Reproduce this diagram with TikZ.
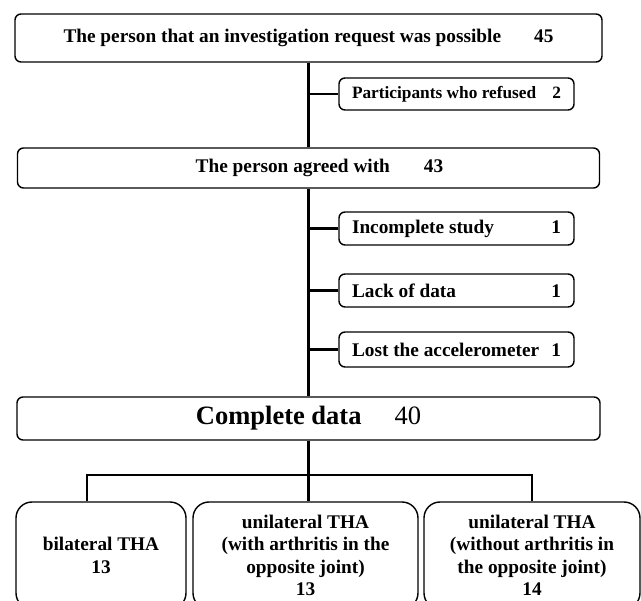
\documentclass[tikz,border=0pt]{standalone}
\usepackage{fontspec}
\setmainfont{Liberation Serif}
\usetikzlibrary{positioning}
\tikzset{
box/.style={draw, line width=1.4pt, rounded corners=6pt, inner sep=0pt, font=\bfseries\fontsize{19.3}{22.5}\selectfont},
sidebox/.style={box, minimum width=235pt, minimum height=33pt},
groupbox/.style={box, rounded corners=16pt, minimum width=#1, minimum height=107pt, align=center},
link/.style={line width=2.4pt}
}
\newcommand{\row}[2]{\makebox[209pt][s]{#1\hfill#2}}

\begin{document}
\begin{tikzpicture}[x=1pt,y=-1pt]
\useasboundingbox (0,0) rectangle (641,601);
\clip (0,0) rectangle (641,601);
\node[box, minimum width=587pt, minimum height=48pt] (request) at (308.5,38) {The person that an investigation request was possible\hspace{33pt}45};
\node[sidebox, minimum height=32pt, font=\bfseries\fontsize{17.3}{20}\selectfont] (refused) at (456.5,94) {\row{Participants who refused}{2}};
\node[box, minimum width=582pt, minimum height=40pt] (agreed) at (308.5,168) {\hspace*{22pt}The person agreed with\hspace{34pt}43};
\node[sidebox] (incomplete) at (456.5,228.5) {\row{Incomplete study}{1}};
\node[sidebox] (lack) at (456.5,290.5) {\row{Lack of data}{1}};
\node[sidebox, minimum height=35pt] (lost) at (456.5,349.5) {\row{Lost the accelerometer}{1}};
\node[box, minimum width=583pt, minimum height=43pt, font=\fontsize{26.5}{30}\selectfont] (complete) at (308.5,418.5) {\textbf{Complete data}\hspace{33pt}40};
\node[groupbox=170pt] (bilateral) at (101,555.5) {bilateral THA\\13};
\node[groupbox=225pt] (withart) at (305.5,555.5) {unilateral THA\\(with arthritis in the\\opposite joint)\\13};
\node[groupbox=216pt] (withoutart) at (532,555.5) {unilateral THA\\(without arthritis in\\the opposite joint)\\14};

\draw[link] (request.south) -- (agreed.north);
\draw[link] (agreed.south) -- (complete.north);
\foreach \b in {refused,incomplete,lack,lost}
  \draw[link] (\b.west) -- (\b.west -| request.south);
\coordinate (barL) at (87,475);
\coordinate (barR) at (532,475);
\draw[link] (complete.south) -- (complete.south |- withart.north);
\draw[link] (bilateral.north -| barL) -- (barL) -- (barR) -- (withoutart.north);
\end{tikzpicture}
\end{document}
